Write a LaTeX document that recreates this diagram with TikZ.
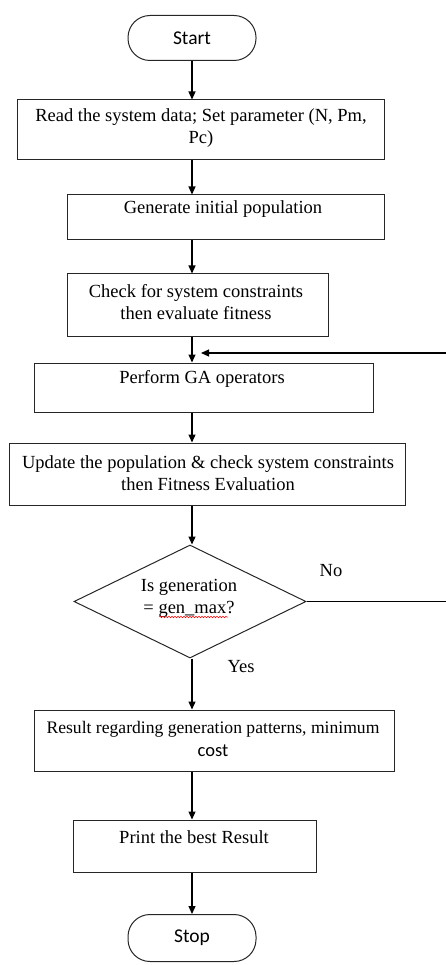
\documentclass[tikz,border=0pt]{standalone}
\usepackage{fontspec}
\setmainfont{Liberation Serif}
\newfontfamily\calfont{Carlito}
\usetikzlibrary{arrows.meta,shapes.geometric,decorations.pathmorphing}
\begin{document}
\begin{tikzpicture}[x=1pt,y=-1pt,
  box/.style={draw=black!85,line width=1pt,rectangle,inner sep=0pt},
  term/.style={draw=black!85,line width=1pt,rectangle,rounded corners=22pt,inner sep=0pt,minimum width=128pt,minimum height=45pt,font=\calfont\fontsize{19.5}{22}\selectfont},
  txt/.style={font=\fontsize{18.5}{22}\selectfont,align=center,inner sep=0pt},
  arr/.style={line width=1.2pt,-{Triangle[length=8pt,width=7pt]}},
  ln/.style={line width=1.2pt}]
\useasboundingbox (0,0) rectangle (446,965);
\clip (0,0) rectangle (446,965);
% nodes
\node[term] (start) at (192,38) {Start};
\node[box,minimum width=367pt,minimum height=60pt] (b1) at (200.5,130) {};
\node[txt] (t1) at (201,128) {Read the system data; Set parameter (N, Pm,\\Pc)};
\node[box,minimum width=317pt,minimum height=45pt] (b2) at (225.5,217.5) {};
\node[txt] (t2) at (223,209) {Generate initial population};
\node[box,minimum width=261pt,minimum height=62pt] (b3) at (197.5,305) {};
\node[txt] (t3) at (196,302) {Check for system constraints\\then evaluate fitness};
\node[box,minimum width=339pt,minimum height=49pt] (b4) at (203.5,387.5) {};
\node[txt] (t4) at (202,379) {Perform GA operators};
\node[box,minimum width=396pt,minimum height=62pt] (b5) at (207,474) {};
\node[txt] (t5) at (208,473) {Update the population \& check system constraints\\then Fitness Evaluation};
\node[diamond,draw=black!85,line width=1pt,inner sep=0pt,minimum width=232pt,minimum height=113pt] (dec) at (190,601.5) {};
\node[txt] (t6) at (189,598) {Is generation\\= gen\_max?};
\draw[red,line width=0.5pt,decorate,decoration={snake,amplitude=0.8pt,segment length=3pt}] (159,617) -- (228,617);
\node[txt] (no) at (331,571) {No};
\node[txt] (yes) at (241,667) {Yes};
\node[box,minimum width=360pt,minimum height=61pt] (b6) at (214,740.5) {};
\node[txt,font=\fontsize{17.6}{22}\selectfont] (t7a) at (213,729) {Result regarding generation patterns, minimum};
\node[font=\calfont\fontsize{18.5}{22}\selectfont,inner sep=0pt] (t7b) at (213,751) {cost};
\node[box,minimum width=243pt,minimum height=52pt] (b7) at (194.5,846) {};
\node[txt] (t8) at (194,837) {Print the best Result};
\node[term,minimum height=47pt] (stop) at (192,938) {Stop};
\coordinate (fb) at (201,353);
\coordinate (r1) at (449,601.5);
\coordinate (r2) at (449,353);
% connectors
\draw[arr] (start.south) -- (b1.north -| start.south);
\draw[arr] (b1.south -| start.south) -- (b2.north -| start.south);
\draw[arr] (b2.south -| start.south) -- (b3.north -| start.south);
\draw[arr] (b3.south -| start.south) -- (b4.north -| start.south);
\draw[arr] (b4.south -| start.south) -- (b5.north -| start.south);
\draw[arr] (b5.south -| start.south) -- (dec.north -| start.south);
\draw[arr] (dec.south -| start.south) -- (b6.north -| start.south);
\draw[arr] (b6.south -| start.south) -- (b7.north -| start.south);
\draw[arr] (b7.south -| start.south) -- (stop.north);
\draw[arr] (dec.east) -- (r1) -- (r2) -- (fb);
\end{tikzpicture}
\end{document}
